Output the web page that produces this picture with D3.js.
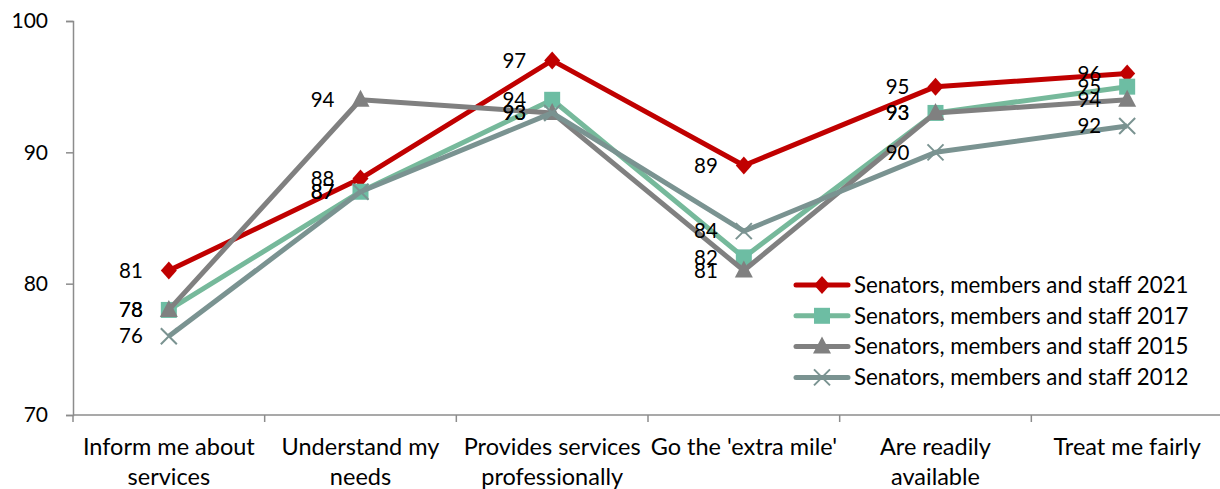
<!DOCTYPE html>
<html>
<head>
<meta charset="utf-8">
<script src="https://cdn.jsdelivr.net/npm/d3@7"></script>
<style>
  html, body { margin: 0; padding: 0; background: #fff; }
  svg { display: block; font-family: Lato, "Open Sans", sans-serif; }
</style>
</head>
<body>
<svg id="chart" width="1220" height="489"></svg>
<script>
// Satisfaction scores by service attribute and survey year
const categories = [
  "Inform me about services",
  "Understand my needs",
  "Provides services professionally",
  "Go the 'extra mile'",
  "Are readily available",
  "Treat me fairly"
];
const categoryLines = [
  ["Inform me about", "services"],
  ["Understand my", "needs"],
  ["Provides services", "professionally"],
  ["Go the 'extra mile'"],
  ["Are readily", "available"],
  ["Treat me fairly"]
];
const seriesNames = [
  "Senators, members and staff 2021",
  "Senators, members and staff 2017",
  "Senators, members and staff 2015",
  "Senators, members and staff 2012"
];
const values2021 = [81, 88, 97, 89, 95, 96];
const values2017 = [78, 87, 94, 82, 93, 95];
const values2015 = [78, 94, 93, 81, 93, 94];
const values2012 = [76, 87, 93, 84, 90, 92];
const yTicks = [70, 80, 90, 100];

const series = [
  { name: seriesNames[0], values: values2021, line: "#C00000", fill: "#C00000", marker: "diamond" },
  { name: seriesNames[1], values: values2017, line: "#76B99B", fill: "#6DBDA3", marker: "square" },
  { name: seriesNames[2], values: values2015, line: "#808080", fill: "#808080", marker: "triangle" },
  { name: seriesNames[3], values: values2012, line: "#7A9391", fill: "#7A9391", marker: "cross" }
];

const svg = d3.select("#chart");
const plot = { left: 73, right: 1223, top: 21, bottom: 415 };

const x = d3.scaleBand().domain(categories).range([plot.left, plot.right]);
const y = d3.scaleLinear().domain([70, 100]).range([plot.bottom, plot.top]);
const cx = c => x(c) + x.bandwidth() / 2;

const axisColor = "#8c8c8c";

// Y axis
const yAxis = svg.append("g")
  .attr("transform", `translate(${plot.left},0)`)
  .call(d3.axisLeft(y).tickValues(yTicks).tickSize(7).tickPadding(18));
yAxis.select(".domain").attr("stroke", axisColor).attr("stroke-width", 1.5);
yAxis.selectAll(".tick line").attr("stroke", axisColor).attr("stroke-width", 1.5);
yAxis.selectAll(".tick text").attr("font-size", 21).attr("fill", "#000")
  .attr("x", -25)
  .attr("font-family", "Lato, sans-serif");

// X axis with ticks at category boundaries
const xAxisG = svg.append("g").attr("transform", `translate(0,${plot.bottom})`);
xAxisG.append("line")
  .attr("x1", plot.left).attr("x2", 1220)
  .attr("stroke", axisColor).attr("stroke-width", 1.5);
const boundaries = categories.map(c => x(c)).concat([plot.right]);
xAxisG.selectAll("line.bt").data(boundaries).join("line")
  .attr("class", "bt")
  .attr("x1", d => d).attr("x2", d => d)
  .attr("y1", 0).attr("y2", 7)
  .attr("stroke", axisColor).attr("stroke-width", 1.5);
const catLabels = xAxisG.selectAll("text.cat").data(categories).join("text")
  .attr("class", "cat")
  .attr("text-anchor", "middle")
  .attr("font-size", 23.5)
  .attr("fill", "#000");
catLabels.each(function (c, i) {
  const t = d3.select(this);
  categoryLines[i].forEach((ln, k) => {
    t.append("tspan").attr("x", cx(c)).attr("y", 40 + k * 30).text(ln);
  });
});

// Marker shapes
function markerPath(type) {
  switch (type) {
    case "diamond": return "M0,-9L8,0L0,9L-8,0Z";
    case "square": return "M-8,-8H8V8H-8Z";
    case "triangle": return "M0,-10L9,7H-9Z";
    default: return "M-8,-8L8,8M8,-8L-8,8";
  }
}
function drawMarker(g, s, px, py) {
  const p = g.append("path")
    .attr("d", markerPath(s.marker))
    .attr("transform", `translate(${px},${py})`);
  if (s.marker === "cross") {
    p.attr("fill", "none").attr("stroke", s.fill).attr("stroke-width", 2);
  } else {
    p.attr("fill", s.fill);
  }
}

const line = d3.line().x((d, i) => cx(categories[i])).y(d => y(d));

// Series lines and markers
series.forEach(s => {
  const g = svg.append("g");
  g.append("path")
    .datum(s.values)
    .attr("d", line)
    .attr("fill", "none")
    .attr("stroke", s.line)
    .attr("stroke-width", 5)
    .attr("stroke-linejoin", "round");
  s.values.forEach((v, i) => drawMarker(g, s, cx(categories[i]), y(v)));
});

// Data labels to the left of each point
series.forEach(s => {
  svg.append("g").selectAll("text").data(s.values).join("text")
    .attr("x", (d, i) => cx(categories[i]) - 26)
    .attr("y", d => y(d))
    .attr("dy", "0.35em")
    .attr("text-anchor", "end")
    .attr("font-size", 20.5)
    .attr("fill", "#000")
    .text(d => d);
});

// Legend
const legend = svg.append("g").attr("transform", "translate(795,285)");
series.forEach((s, i) => {
  const g = legend.append("g").attr("transform", `translate(0,${i * 30.8})`);
  g.append("line").attr("x1", 1).attr("x2", 53)
    .attr("stroke", s.line).attr("stroke-width", 5).attr("stroke-linecap", "round");
  drawMarker(g, s, 27, 0);
  g.append("text").attr("x", 59).attr("dy", "0.35em")
    .attr("font-size", 22.3).attr("fill", "#000").text(s.name);
});
</script>
</body>
</html>
